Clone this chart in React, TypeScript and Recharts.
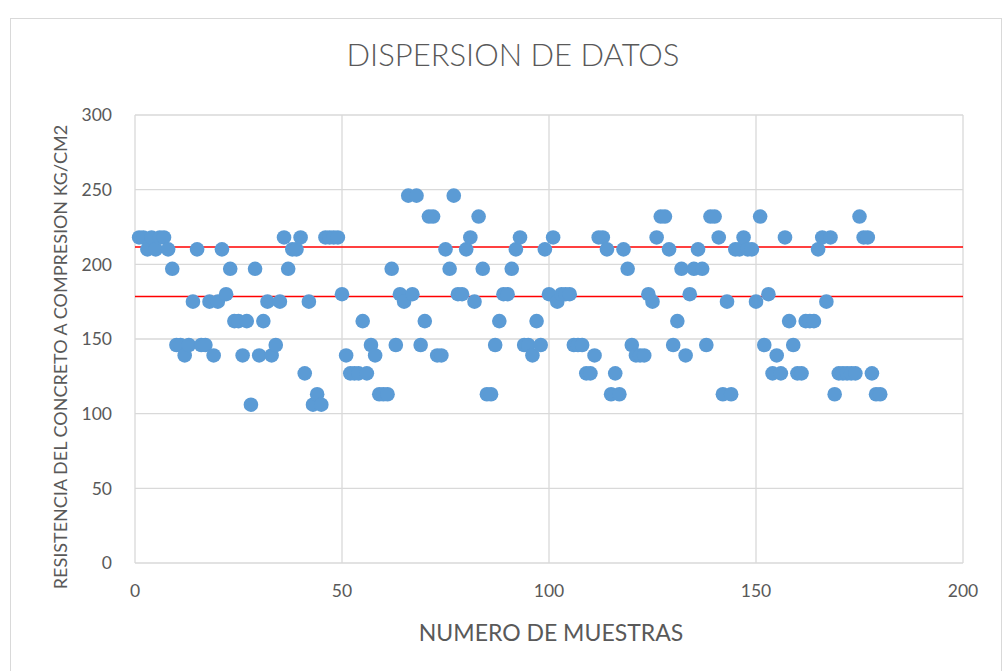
import {
  ScatterChart,
  Scatter,
  XAxis,
  YAxis,
  CartesianGrid,
  ReferenceLine,
} from "recharts";

// resistencia (kg/cm2) por muestra, muestras 1..180
const resistance = [
  218, 218, 210, 218, 210, 218, 218, 210, 197, 146,
  146, 139, 146, 175, 210, 146, 146, 175, 139, 175,
  210, 180, 197, 162, 162, 139, 162, 106, 197, 139,
  162, 175, 139, 146, 175, 218, 197, 210, 210, 218,
  127, 175, 106, 113, 106, 218, 218, 218, 218, 180,
  139, 127, 127, 127, 162, 127, 146, 139, 113, 113,
  113, 197, 146, 180, 175, 246, 180, 246, 146, 162,
  232, 232, 139, 139, 210, 197, 246, 180, 180, 210,
  218, 175, 232, 197, 113, 113, 146, 162, 180, 180,
  197, 210, 218, 146, 146, 139, 162, 146, 210, 180,
  218, 175, 180, 180, 180, 146, 146, 146, 127, 127,
  139, 218, 218, 210, 113, 127, 113, 210, 197, 146,
  139, 139, 139, 180, 175, 218, 232, 232, 210, 146,
  162, 197, 139, 180, 197, 210, 197, 146, 232, 232,
  218, 113, 175, 113, 210, 210, 218, 210, 210, 175,
  232, 146, 180, 127, 139, 127, 218, 162, 146, 127,
  127, 162, 162, 162, 210, 218, 175, 218, 113, 127,
  127, 127, 127, 127, 232, 218, 218, 127, 113, 113,
];

const xTicks = [0, 50, 100, 150, 200];
const yTicks = [0, 50, 100, 150, 200, 250, 300];

// limites (lineas rojas)
const upperLimit = 211.6;
const lowerLimit = 178.4;

const points = resistance.map((value, i) => ({ muestra: i + 1, value }));

const FONT = "Lato, 'Liberation Sans', sans-serif";
const TEXT = "#595959";
const GRID = "#d9d9d9";

const Dot = (props: any) => (
  <circle cx={props.cx} cy={props.cy} r={7.3} fill="#5b9bd5" />
);

export default function App() {
  return (
    <div
      style={{
        position: "absolute",
        left: 0,
        top: 0,
        width: 1008,
        height: 671,
        background: "#fff",
        fontFamily: FONT,
        overflow: "hidden",
      }}
    >
      {/* chart border */}
      <div
        style={{
          position: "absolute",
          left: 10,
          top: 18,
          width: 990,
          height: 660,
          border: `1px solid ${GRID}`,
        }}
      />

      <ScatterChart
        width={1008}
        height={671}
        margin={{ top: 115, right: 45, bottom: 68, left: 75 }}
      >
        <CartesianGrid stroke={GRID} strokeWidth={1.3} />
        <XAxis
          type="number"
          dataKey="muestra"
          domain={[0, 200]}
          ticks={xTicks}
          height={40}
          axisLine={false}
          tickLine={false}
          tickSize={0}
          tickMargin={22}
          tick={{ fill: TEXT, fontSize: 17.5, fontFamily: FONT }}
        />
        <YAxis
          type="number"
          dataKey="value"
          domain={[0, 300]}
          ticks={yTicks}
          width={60}
          axisLine={false}
          tickLine={false}
          tickSize={0}
          tickMargin={23}
          tick={{ fill: TEXT, fontSize: 17.5, fontFamily: FONT }}
        />
        <ReferenceLine y={upperLimit} stroke="#ff0000" strokeWidth={1.5} />
        <ReferenceLine y={lowerLimit} stroke="#ff0000" strokeWidth={1.5} />
        <Scatter data={points} shape={Dot} isAnimationActive={false} />
      </ScatterChart>

      {/* title */}
      <div
        style={{
          position: "absolute",
          left: 513 - 300,
          width: 600,
          top: 35,
          textAlign: "center",
          fontSize: 31,
          fontWeight: 300,
          color: TEXT,
        }}
      >
        DISPERSION DE DATOS
      </div>

      {/* y label */}
      <div
        style={{
          position: "absolute",
          left: 60 - 300,
          top: 357 - 11,
          width: 600,
          height: 22,
          lineHeight: "22px",
          textAlign: "center",
          transform: "rotate(-90deg)",
          whiteSpace: "nowrap",
          fontSize: 18,
          color: TEXT,
        }}
      >
        RESISTENCIA DEL CONCRETO A COMPRESION KG/CM2
      </div>

      {/* x label */}
      <div
        style={{
          position: "absolute",
          left: 551 - 300,
          width: 600,
          top: 618,
          textAlign: "center",
          fontSize: 23,
          color: TEXT,
        }}
      >
        NUMERO DE MUESTRAS
      </div>
    </div>
  );
}
